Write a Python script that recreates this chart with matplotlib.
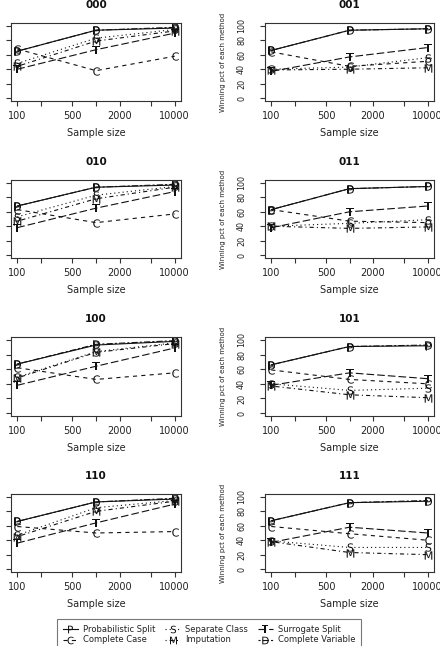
import matplotlib
matplotlib.use("Agg")
import matplotlib.pyplot as plt
from matplotlib.lines import Line2D

plt.rcParams['font.family'] = ['DejaVu Sans']
plt.rcParams['lines.scale_dashes'] = False

sample_sizes = [100, 1000, 10000]
tick_positions = [100, 200, 500, 1000, 2000, 5000, 10000]
tick_labels = ['100', '', '500', '', '2000', '', '10000']
y_ticks = [0, 20, 40, 60, 80, 100]

methods = ['P', 'C', 'S', 'M', 'T', 'D']
method_names = ['Probabilistic Split', 'Complete Case', 'Separate Class',
                'Imputation', 'Surrogate Split', 'Complete Variable']

panel_000 = dict(P=[65, 94, 97], C=[68, 38, 58], S=[48, 83, 95],
                 M=[44, 79, 93], T=[40, 67, 90], D=[65, 94, 98])
panel_001 = dict(P=[66, 94, 96], C=[64, 44, 51], S=[40, 43, 56],
                 M=[39, 40, 42], T=[37, 57, 70], D=[66, 94, 96])
panel_010 = dict(P=[68, 94, 97], C=[63, 45, 57], S=[53, 83, 95],
                 M=[47, 78, 94], T=[38, 65, 88], D=[68, 94, 98])
panel_011 = dict(P=[63, 92, 95], C=[63, 47, 45], S=[40, 44, 49],
                 M=[40, 37, 39], T=[38, 60, 68], D=[63, 92, 95])
panel_100 = dict(P=[67, 93, 98], C=[62, 46, 55], S=[49, 84, 96],
                 M=[48, 83, 95], T=[38, 64, 89], D=[67, 94, 99])
panel_101 = dict(P=[66, 91, 92], C=[59, 46, 40], S=[40, 31, 34],
                 M=[37, 25, 21], T=[38, 55, 47], D=[66, 91, 93])
panel_110 = dict(P=[66, 93, 97], C=[59, 50, 52], S=[47, 85, 95],
                 M=[45, 80, 94], T=[36, 64, 90], D=[66, 93, 98])
panel_111 = dict(P=[67, 92, 94], C=[59, 49, 40], S=[39, 30, 30],
                 M=[38, 23, 20], T=[37, 58, 50], D=[67, 92, 95])

panel_titles = ['000', '001', '010', '011', '100', '101', '110', '111']
panel_data = [panel_000, panel_001, panel_010, panel_011,
              panel_100, panel_101, panel_110, panel_111]

line_styles = {
    'P': '-',
    'C': (0, (3, 3)),
    'S': (0, (0.8, 2.2)),
    'M': (0, (0.8, 2.2, 3, 2.2)),
    'T': (0, (5.5, 2.2)),
    'D': (0, (1.5, 1.5, 4.5, 1.5)),
}

W, H = 440, 646
fig = plt.figure(figsize=(W / 100, H / 100), dpi=100)

col_x = [(11, 181), (265, 434)]
row_y = [(23, 101), (180, 258), (337, 416), (494, 572)]

line_col = '#111111'
frame_col = '#333333'

for i, (title, data) in enumerate(zip(panel_titles, panel_data)):
    r, c = divmod(i, 2)
    x0, x1 = col_x[c]
    t, b = row_y[r]
    ax = fig.add_axes([x0 / W, 1 - b / H, (x1 - x0) / W, (b - t) / H])
    for m in methods:
        ax.plot(sample_sizes, data[m], linestyle=line_styles[m], color=line_col,
                lw=0.8, marker='$\\mathsf{%s}$' % m, ms=6, mfc=line_col,
                mec=line_col, mew=0.0)
    ax.set_xscale('log')
    ax.set_xlim(10 ** 1.92, 10 ** 4.08)
    ax.set_ylim(-4, 104)
    ax.set_xticks(tick_positions)
    ax.set_xticklabels(tick_labels)
    ax.minorticks_off()
    ax.set_yticks(y_ticks)
    ax.tick_params(axis='both', direction='out', length=3.6, width=0.8,
                   color=frame_col, labelsize=7, labelcolor='#222222')
    ax.tick_params(axis='x', pad=3.5)
    for s in ax.spines.values():
        s.set_color(frame_col)
        s.set_linewidth(0.8)
    ax.set_title(title, fontsize=7.5, fontweight='bold', pad=10.5, color='#111111')
    ax.set_xlabel('Sample size', fontsize=7, labelpad=5, color='#222222')
    if c == 1:
        ax.set_yticklabels([str(v) for v in y_ticks])
        plt.setp(ax.get_yticklabels(), rotation=90, va='center', fontsize=5.8)
        ax.tick_params(axis='y', pad=10)
        ax.set_ylabel('Winning pct of each method', fontsize=5, color='#222222')
        ax.yaxis.set_label_coords(-0.23, 0.5)
    else:
        ax.set_yticklabels([])

handles = [Line2D([], [], linestyle=line_styles[m], color=line_col, lw=0.8,
                  marker='$\\mathsf{%s}$' % m, ms=5.5, mfc=line_col,
                  mec=line_col, mew=0.0) for m in methods]
leg = fig.legend(handles, method_names, ncol=3, loc='upper left',
                 bbox_to_anchor=(57 / W, 1 - 619 / H - 0.05, 304 / W, 0.05),
                 mode='expand', borderaxespad=0, fontsize=6, frameon=True,
                 fancybox=False, handlelength=1.8, handletextpad=0.6,
                 labelspacing=0.2, borderpad=0.7, numpoints=1)
leg.get_frame().set_edgecolor('#555555')
leg.get_frame().set_linewidth(0.8)
for txt in leg.get_texts():
    txt.set_color('#222222')

fig.savefig('out.png', dpi=100)
